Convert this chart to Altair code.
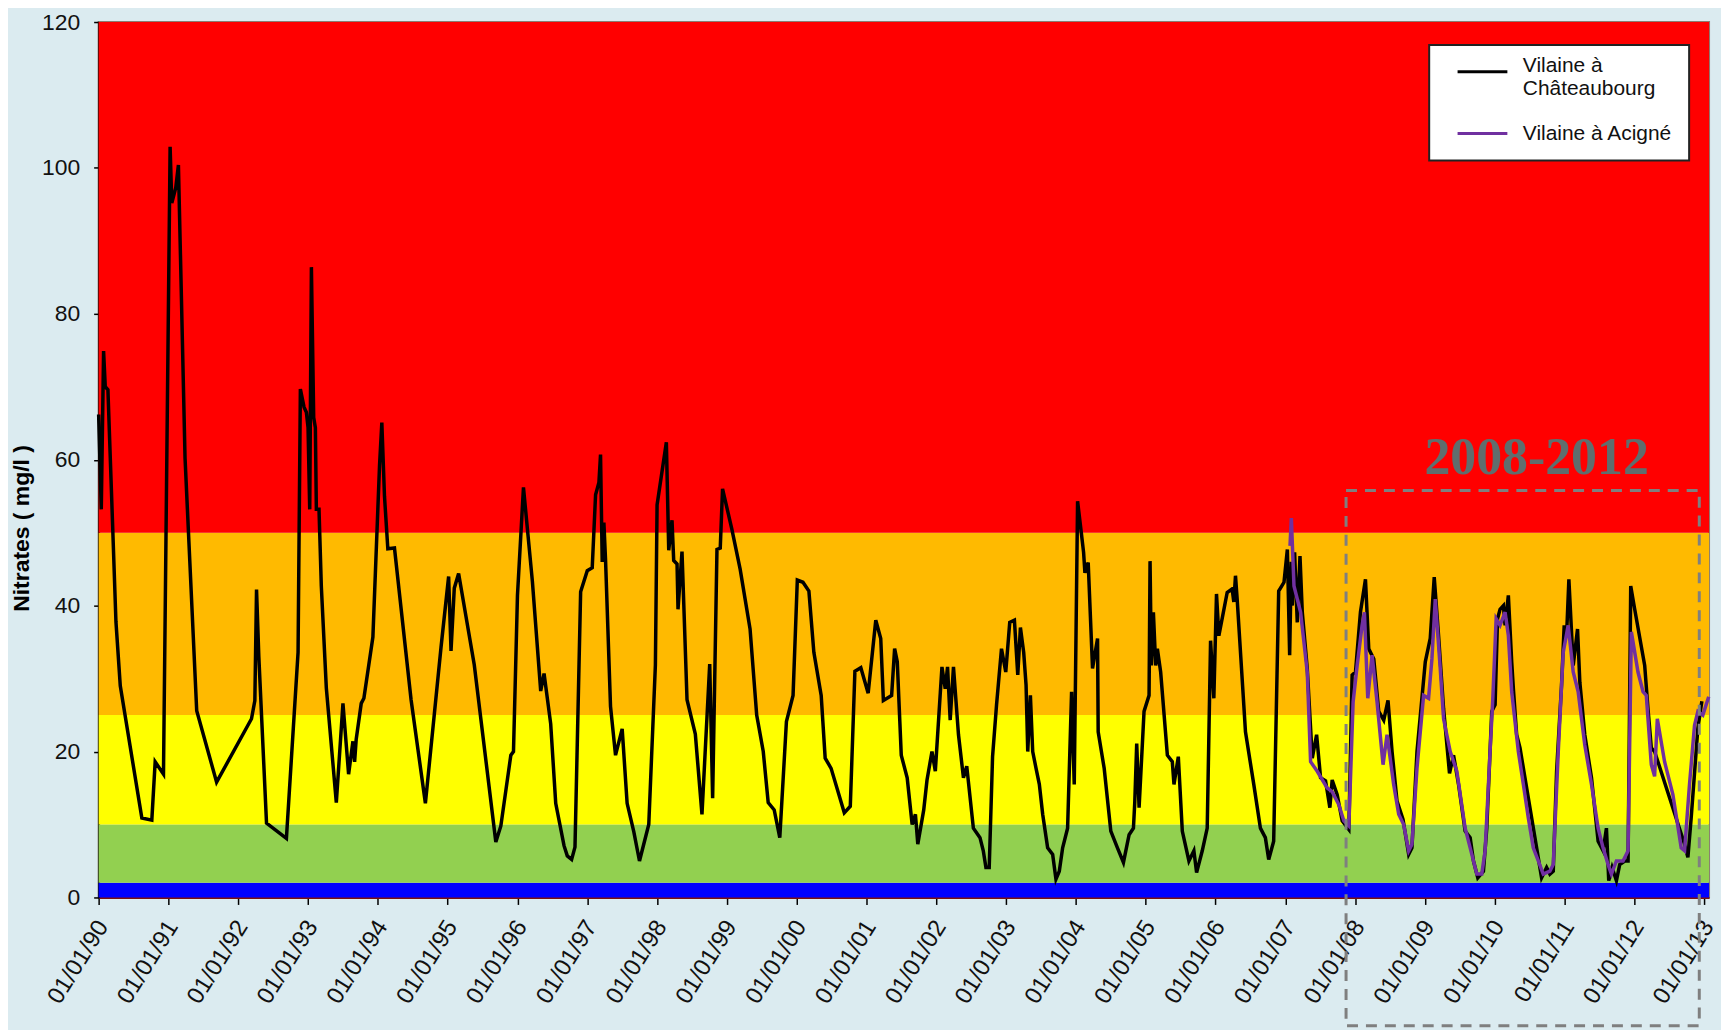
import altair as alt
import pandas as pd

# ---------------- data ----------------
# quality classes (mg/l)
band_lo = [0, 2, 10, 25, 50]
band_hi = [2, 10, 25, 50, 120]
band_color = ["#0000FF", "#92D050", "#FFFF00", "#FFBA00", "#FF0000"]

# Vilaine à Châteaubourg (decimal year, mg/l)
chat_t = [
    1990.000, 1990.038, 1990.071, 1990.095, 1990.133, 1990.190, 1990.248, 1990.310, 1990.619, 1990.762,
    1990.810, 1990.929, 1991.024, 1991.048, 1991.105, 1991.143, 1991.238, 1991.405, 1991.690, 1992.190,
    1992.238, 1992.262, 1992.295, 1992.405, 1992.690, 1992.857, 1992.890, 1992.943, 1992.976, 1993.000,
    1993.024, 1993.048, 1993.081, 1993.105, 1993.119, 1993.157, 1993.190, 1993.262, 1993.405, 1993.500,
    1993.581, 1993.643, 1993.667, 1993.690, 1993.762, 1993.800, 1993.929, 1994.024, 1994.057, 1994.095,
    1994.143, 1994.238, 1994.476, 1994.681, 1994.905, 1995.014, 1995.048, 1995.095, 1995.157, 1995.381,
    1995.690, 1995.762, 1995.905, 1995.943, 1996.000, 1996.086, 1996.214, 1996.333, 1996.381, 1996.476,
    1996.548, 1996.667, 1996.714, 1996.776, 1996.824, 1996.905, 1997.000, 1997.071, 1997.119, 1997.167,
    1997.190, 1997.214, 1997.238, 1997.262, 1997.333, 1997.405, 1997.500, 1997.571, 1997.667, 1997.748,
    1997.881, 1997.976, 1998.000, 1998.133, 1998.167, 1998.214, 1998.238, 1998.286, 1998.300, 1998.357,
    1998.429, 1998.548, 1998.643, 1998.754, 1998.796, 1998.858, 1998.905, 1998.938, 1999.071, 1999.190,
    1999.332, 1999.427, 1999.521, 1999.592, 1999.678, 1999.758, 1999.853, 1999.948, 2000.009, 2000.090,
    2000.175, 2000.246, 2000.351, 2000.408, 2000.493, 2000.682, 2000.768, 2000.834, 2000.919, 2001.024,
    2001.133, 2001.204, 2001.242, 2001.360, 2001.403, 2001.441, 2001.498, 2001.583, 2001.654, 2001.701,
    2001.735, 2001.820, 2001.867, 2001.938, 2001.986, 2002.081, 2002.128, 2002.161, 2002.199, 2002.246,
    2002.318, 2002.389, 2002.436, 2002.531, 2002.626, 2002.673, 2002.711, 2002.758, 2002.806, 2002.863,
    2002.934, 2002.995, 2003.052, 2003.119, 2003.167, 2003.205, 2003.252, 2003.286, 2003.310, 2003.348,
    2003.381, 2003.429, 2003.476, 2003.524, 2003.595, 2003.667, 2003.714, 2003.762, 2003.810, 2003.881,
    2003.938, 2003.976, 2004.024, 2004.071, 2004.110, 2004.129, 2004.176, 2004.238, 2004.310, 2004.319,
    2004.405, 2004.500, 2004.595, 2004.681, 2004.762, 2004.824, 2004.843, 2004.871, 2004.905, 2004.976,
    2005.048, 2005.062, 2005.081, 2005.110, 2005.143, 2005.167, 2005.214, 2005.310, 2005.381, 2005.405,
    2005.467, 2005.524, 2005.619, 2005.690, 2005.729, 2005.810, 2005.881, 2005.929, 2005.976, 2006.014,
    2006.048, 2006.167, 2006.238, 2006.262, 2006.286, 2006.310, 2006.405, 2006.429, 2006.548, 2006.643,
    2006.714, 2006.762, 2006.833, 2006.905, 2006.981, 2007.029, 2007.062, 2007.086, 2007.100, 2007.133,
    2007.171, 2007.210, 2007.243, 2007.314, 2007.386, 2007.448, 2007.505, 2007.576, 2007.638, 2007.671,
    2007.743, 2007.814, 2007.910, 2007.957, 2008.005, 2008.076, 2008.148, 2008.195, 2008.267, 2008.338,
    2008.410, 2008.471, 2008.529, 2008.600, 2008.686, 2008.767, 2008.814, 2008.886, 2009.005, 2009.076,
    2009.133, 2009.195, 2009.267, 2009.352, 2009.410, 2009.481, 2009.576, 2009.648, 2009.695, 2009.757,
    2009.838, 2009.886, 2009.957, 2010.005, 2010.040, 2010.076, 2010.124, 2010.148, 2010.195, 2010.243,
    2010.267, 2010.314, 2010.362, 2010.433, 2010.529, 2010.600, 2010.671, 2010.743, 2010.790, 2010.838,
    2010.886, 2010.957, 2010.995, 2011.029, 2011.062, 2011.124, 2011.186, 2011.219, 2011.290, 2011.386,
    2011.481, 2011.552, 2011.600, 2011.633, 2011.681, 2011.743, 2011.790, 2011.862, 2011.910, 2011.948,
    2012.005, 2012.148, 2012.195, 2012.243, 2012.290, 2012.338, 2012.719, 2012.767, 2012.814, 2012.910,
    2012.967,
]
chat_v = [
    66.2, 53.2, 74.9, 70.0, 69.6, 53.9, 37.8, 29.0, 10.9, 10.6,
    18.6, 16.9, 102.9, 95.2, 97.3, 100.4, 60.2, 25.6, 15.8, 24.5,
    27.0, 42.2, 33.0, 10.2, 8.1, 33.6, 69.7, 67.2, 66.5, 64.4,
    53.2, 86.4, 65.8, 64.4, 53.2, 53.2, 42.7, 28.7, 13.0, 26.6,
    16.9, 21.4, 18.6, 21.7, 26.6, 27.3, 35.7, 59.2, 65.1, 55.0,
    47.8, 47.9, 27.1, 12.9, 34.3, 44.0, 33.8, 42.4, 44.4, 31.9,
    7.6, 9.8, 19.5, 20.0, 41.4, 56.2, 43.3, 28.3, 30.7, 23.8,
    12.9, 7.1, 5.7, 5.2, 6.9, 41.9, 44.8, 45.2, 55.2, 56.9,
    60.7, 46.0, 51.4, 46.2, 26.2, 19.5, 23.1, 12.9, 9.0, 5.0,
    10.0, 31.9, 53.8, 62.4, 47.6, 51.7, 46.2, 45.7, 39.5, 47.4,
    27.1, 22.4, 11.4, 32.0, 13.6, 47.7, 47.9, 56.0, 50.5, 45.0,
    36.8, 25.0, 20.0, 13.0, 12.0, 8.2, 24.1, 27.7, 43.5, 43.2,
    42.0, 33.6, 27.7, 19.1, 17.7, 11.6, 12.5, 31.0, 31.5, 28.0,
    38.0, 35.5, 27.0, 27.7, 34.1, 32.3, 19.5, 16.4, 10.0, 11.4,
    7.3, 12.0, 16.1, 20.0, 17.3, 31.6, 28.6, 31.6, 24.3, 31.6,
    22.3, 16.4, 18.0, 9.5, 8.2, 6.4, 4.1, 4.1, 19.3, 26.4,
    34.1, 30.9, 37.7, 38.0, 30.5, 37.0, 33.6, 29.1, 20.0, 27.7,
    20.0, 17.7, 15.5, 11.4, 6.8, 5.9, 2.5, 3.6, 6.8, 9.5,
    28.2, 15.5, 54.3, 50.5, 47.3, 44.5, 45.9, 31.4, 35.5, 22.7,
    17.7, 9.1, 6.8, 4.8, 8.6, 9.5, 13.0, 21.1, 12.3, 25.5,
    27.7, 46.1, 31.8, 39.1, 31.8, 34.1, 30.9, 19.5, 18.6, 15.5,
    19.3, 9.1, 5.0, 6.4, 3.4, 6.4, 9.5, 35.2, 27.3, 41.6,
    35.9, 41.8, 42.3, 40.5, 44.1, 40.9, 26.4, 22.7, 15.5, 9.5,
    8.2, 5.2, 7.7, 42.0, 43.2, 47.7, 33.2, 46.0, 40.0, 47.3,
    37.7, 46.8, 39.1, 31.4, 19.1, 22.3, 16.4, 16.0, 12.3, 16.1,
    14.1, 10.5, 9.3, 30.5, 30.9, 39.1, 43.6, 34.1, 32.7, 25.5,
    24.3, 27.0, 20.0, 13.2, 10.7, 5.9, 6.8, 20.0, 32.3, 35.5,
    43.9, 35.9, 25.9, 17.0, 19.5, 15.5, 9.1, 8.2, 5.0, 2.7,
    3.6, 9.5, 25.5, 26.4, 38.2, 39.5, 40.0, 37.3, 41.4, 32.3,
    28.6, 22.3, 20.5, 16.4, 10.9, 6.8, 2.7, 4.1, 3.2, 3.6,
    17.3, 29.1, 37.3, 35.9, 43.6, 31.8, 36.8, 29.5, 22.3, 16.4,
    7.7, 6.4, 9.5, 2.3, 4.1, 2.3, 4.5, 5.0, 5.0, 42.7,
    39.5, 31.8, 25.9, 20.5, 20.0, 18.6, 7.3, 5.5, 10.9, 23.2,
    26.9,
]

# Vilaine à Acigné (decimal year, mg/l)
acig_t = [
    2007.067, 2007.086, 2007.124, 2007.219, 2007.314, 2007.362, 2007.457, 2007.600, 2007.671, 2007.767,
    2007.838, 2007.910, 2007.971, 2008.029, 2008.100, 2008.133, 2008.181, 2008.243, 2008.314, 2008.400,
    2008.457, 2008.552, 2008.624, 2008.695, 2008.767, 2008.814, 2008.886, 2008.981, 2009.052, 2009.100,
    2009.148, 2009.219, 2009.267, 2009.362, 2009.457, 2009.576, 2009.648, 2009.743, 2009.814, 2009.862,
    2009.933, 2009.970, 2010.020, 2010.076, 2010.148, 2010.195, 2010.243, 2010.338, 2010.410, 2010.481,
    2010.552, 2010.624, 2010.695, 2010.790, 2010.838, 2010.910, 2010.981, 2011.052, 2011.124, 2011.195,
    2011.290, 2011.386, 2011.481, 2011.552, 2011.624, 2011.671, 2011.743, 2011.838, 2011.910, 2011.957,
    2012.052, 2012.124, 2012.171, 2012.243, 2012.290, 2012.329, 2012.433, 2012.552, 2012.671, 2012.719,
    2012.790, 2012.862, 2012.910, 2012.981, 2013.065,
]
acig_v = [
    48.2, 52.0, 42.7, 39.1, 30.9, 18.6, 17.3, 15.0, 14.5, 12.7,
    10.5, 9.8, 26.8, 31.8, 37.3, 39.1, 27.3, 33.2, 26.8, 18.2,
    22.3, 15.5, 11.4, 10.0, 6.4, 7.3, 17.7, 27.7, 27.3, 32.7,
    40.9, 31.4, 24.5, 20.0, 17.3, 9.5, 6.8, 3.2, 3.2, 6.4,
    20.0, 26.8, 38.2, 37.3, 39.1, 35.9, 28.2, 20.0, 15.5, 10.9,
    6.8, 5.0, 3.2, 3.6, 4.5, 20.0, 33.6, 37.3, 30.9, 28.2,
    20.9, 15.5, 9.5, 6.8, 4.5, 3.2, 5.0, 5.0, 6.4, 36.4,
    30.9, 28.2, 27.7, 18.2, 16.6, 24.5, 18.6, 14.1, 6.8, 6.4,
    15.5, 23.6, 25.5, 25.0, 27.5,
]

series_names = ["Vilaine à Châteaubourg", "Vilaine à Acigné"]
series_colors = ["#000000", "#7030A0"]

year_ticks = list(range(1990, 2014))
y_ticks = [0, 20, 40, 60, 80, 100, 120]

# highlighted period box and its label
box_t = [2007.87, 2012.93]
box_v = [-17.6, 55.8]
label_t = [2010.6]
label_v = [60.2]
label_txt = ["2008-2012"]

# ---------------- chart ----------------
W, H = 1617, 879
FONT = "Liberation Sans"

bands = pd.DataFrame({"lo": band_lo, "hi": band_hi, "c": band_color})
chat = pd.DataFrame({"t": chat_t, "v": chat_v, "s": series_names[0]})
acig = pd.DataFrame({"t": acig_t, "v": acig_v, "s": series_names[1]})
box = pd.DataFrame({"t1": [box_t[0]], "t2": [box_t[1]], "v1": [box_v[0]], "v2": [box_v[1]]})
lab = pd.DataFrame({"t": label_t, "v": label_v, "txt": label_txt})

xscale = alt.Scale(domain=[1990, 2013.07], nice=False, zero=False)
yscale = alt.Scale(domain=[0, 120], nice=False)
cscale = alt.Scale(domain=series_names, range=series_colors)

band_layer = alt.Chart(bands).mark_rect().encode(
    x=alt.value(0),
    x2=alt.value(W),
    y=alt.Y("lo:Q", scale=yscale, axis=alt.Axis(
        values=y_ticks, title="Nitrates ( mg/l )", grid=False,
        labelFont=FONT, labelFontSize=23, labelColor="#111111", labelPadding=14,
        tickColor="#000000", tickSize=5, tickWidth=1.5,
        domainColor="#000000", domainWidth=2,
        titleFont=FONT, titleFontSize=23, titleFontWeight="bold", titleColor="#000000",
        titleAngle=270, titleX=-77, titleY=508, titleAlign="center", titleBaseline="middle",
    )),
    y2="hi:Q",
    fill=alt.Fill("c:N", scale=None, legend=None),
)

xaxis = alt.Axis(
    values=year_ticks,
    labelExpr="'01/01/' + format(datum.value % 100, '02d')",
    title=None, grid=False,
    labelFont=FONT, labelFontSize=24, labelColor="#111111", labelAngle=302,
    labelPadding=18, labelOffset=4, labelOverlap=False, labelBound=False, labelFlush=False,
    tickColor="#000000", tickSize=7, tickWidth=1.5,
    domainColor="#7a1010", domainWidth=2,
)

legend = alt.Legend(
    title=None, orient="none", legendX=1336, legendY=23,
    fillColor="#FFFFFF", strokeColor="#222222", padding=16,
    labelFont=FONT, labelFontSize=21, labelColor="#111111", labelLimit=400,
    labelExpr="datum.label == 'Vilaine à Châteaubourg' ? ['Vilaine à', 'Châteaubourg'] : datum.label",
    labelBaseline=alt.ExprRef(expr="datum.label == 'Vilaine à Châteaubourg' ? 'alphabetic' : 'middle'"),
    clipHeight=22, symbolOffset=11, labelOffset=14,
    symbolType="stroke", symbolSize=2500, symbolStrokeWidth=3, rowPadding=24,
)

line_chat = alt.Chart(chat).mark_line(strokeWidth=3.5, strokeJoin="miter").encode(
    x=alt.X("t:Q", scale=xscale, axis=xaxis),
    y=alt.Y("v:Q", scale=yscale),
    color=alt.Color("s:N", scale=cscale, legend=legend),
)

line_acig = alt.Chart(acig).mark_line(strokeWidth=3.5, strokeJoin="miter").encode(
    x=alt.X("t:Q", scale=xscale),
    y=alt.Y("v:Q", scale=yscale),
    color=alt.Color("s:N", scale=cscale, legend=legend),
)

box_layer = alt.Chart(box).mark_rect(
    filled=False, stroke="#7f7f7f", strokeWidth=3, strokeDash=[11, 8], clip=False
).encode(
    x=alt.X("t1:Q", scale=xscale),
    x2="t2:Q",
    y=alt.Y("v1:Q", scale=yscale),
    y2="v2:Q",
)

text_layer = alt.Chart(lab).mark_text(
    font="Liberation Serif", fontWeight="bold", fontSize=52, color="#5f6e6e",
    align="center", baseline="middle",
).encode(
    x=alt.X("t:Q", scale=xscale),
    y=alt.Y("v:Q", scale=yscale),
    text="txt:N",
)

chart = alt.layer(band_layer, line_chat, line_acig, box_layer, text_layer).properties(
    width=W, height=H,
    background="#DBEBF0",
    autosize=alt.AutoSizeParams(type="none"),
    padding={"left": 91, "top": 12, "right": 12, "bottom": 131},
).configure_view(stroke="#8a7d72", strokeWidth=2).configure_legend(strokeWidth=2)

chart.save("out.html", embed_options={"renderer": "svg", "actions": False})
